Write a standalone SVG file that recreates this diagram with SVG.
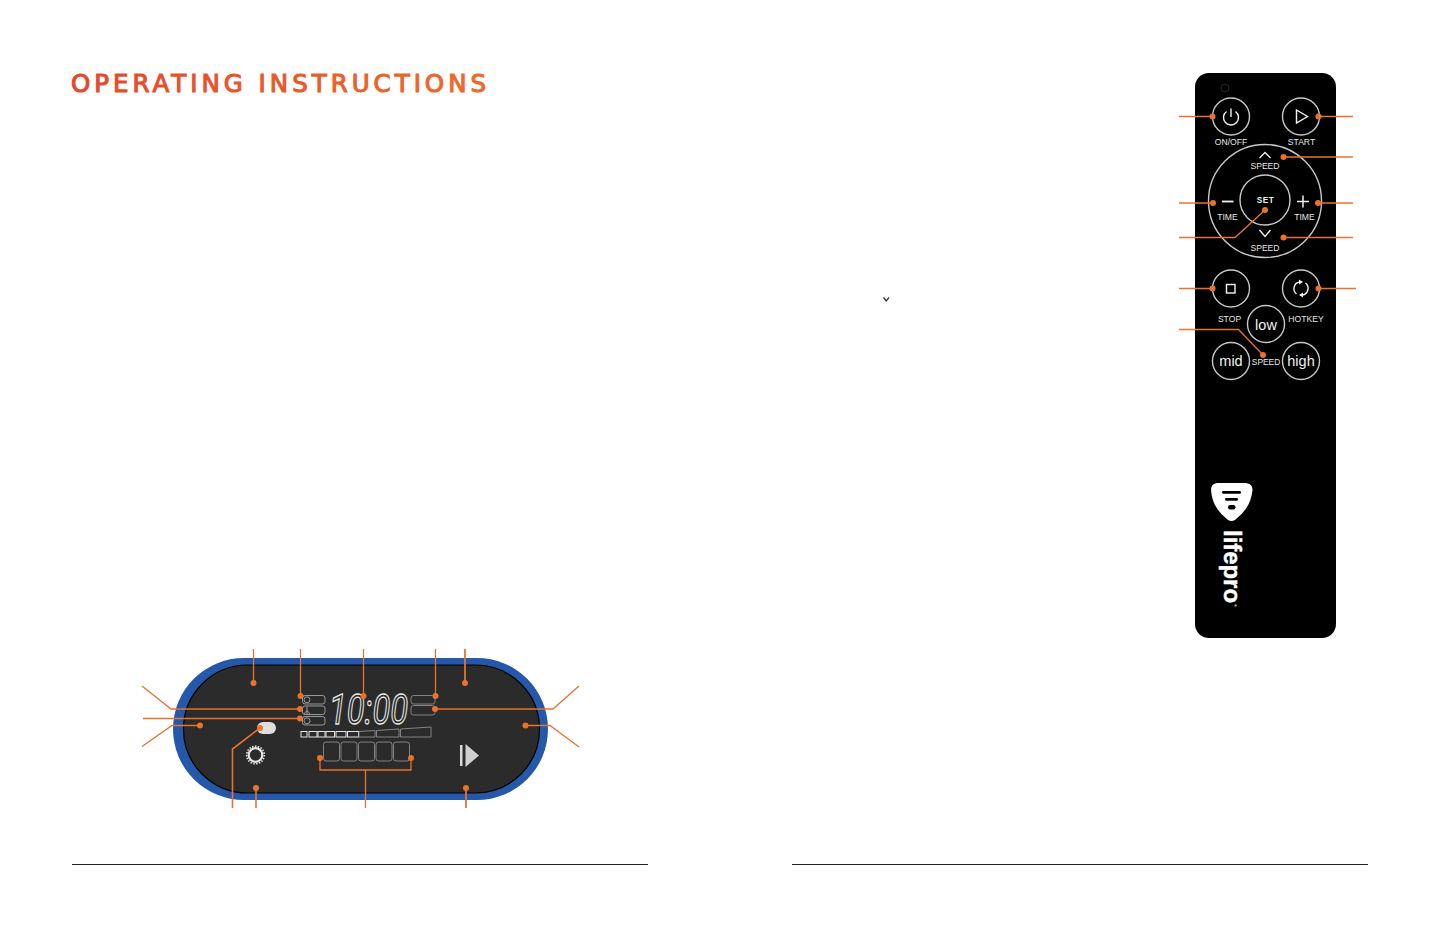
<svg xmlns="http://www.w3.org/2000/svg" width="1440" height="936" viewBox="0 0 1440 936">
<style>
text{font-family:"Liberation Sans",Arial,sans-serif}
.c{fill:none;stroke:#e9722c;stroke-width:1.300}
.d{fill:#e9722c}
.lcd{fill:none;stroke:#8d8d8d;stroke-width:.9}
.lit{fill:none;stroke:#e4e4e4;stroke-width:1}
.sm{fill:none;stroke:#b5b5b5;stroke-width:.8}
.btn{fill:none;stroke:#c8c8c8;stroke-width:1.400}
.ic{fill:none;stroke:#f2f2f2;stroke-width:1.400}
.lb{fill:#e6e6e6;font-size:8.600px;text-anchor:middle}
.big{fill:#f0f0f0;font-size:14.500px;text-anchor:middle}
.rule{stroke:#222;stroke-width:1}
</style>
<defs>
<linearGradient id="tg" gradientUnits="userSpaceOnUse" x1="71" x2="486" y1="0" y2="0"><stop offset="0" stop-color="#e4472c"/><stop offset="1" stop-color="#ee6a2c"/></linearGradient>
</defs>
<rect width="1440" height="936" fill="#fff"/>
<text id="title" x="71" y="91.500" font-size="24.500" fill="url(#tg)" stroke="url(#tg)" stroke-width="1.100" textLength="415" lengthAdjust="spacing" style="font-family:'DejaVu Sans',sans-serif">OPERATING INSTRUCTIONS</text>
<path id="chevron" d="M883.500 297.500L886.200 301L889 297.500" fill="none" stroke="#333" stroke-width="1.300"/>
<line class="rule" x1="72" y1="864.500" x2="648" y2="864.500"/>
<line class="rule" x1="792" y1="864.500" x2="1368" y2="864.500"/>

<g id="panel">
<rect x="173" y="658" width="375" height="142" rx="71" fill="#2558a8"/>
<rect x="183.500" y="665" width="356" height="128" rx="64" fill="#2b2b2b" stroke="#000" stroke-width="1.200"/>
<rect class="sm" x="302.500" y="695.500" width="22.500" height="8.500" rx="2.500"/>
<rect class="sm" x="302.500" y="706" width="22.500" height="8.500" rx="2.500"/>
<rect class="sm" x="302.500" y="716.500" width="22.500" height="8.500" rx="2.500"/>
<circle class="sm" cx="307" cy="699.800" r="3"/>
<path class="sm" d="M307 706.500V714M307 710.500L304 714M307 710.500L310 714"/>
<circle class="sm" cx="307" cy="720.800" r="3"/>
<rect class="lcd" x="411" y="695.500" width="24" height="8.500" rx="2.500"/>
<rect class="lcd" x="411" y="705.500" width="24" height="9.500" rx="2.500"/>
<text id="clock" x="329" y="723.500" font-size="43" font-style="italic" fill="#2b2b2b" stroke="#e8e8e8" stroke-width="1.300" textLength="79" lengthAdjust="spacingAndGlyphs" style="font-family:Roboto,sans-serif">10:00</text>
<g>
<rect class="lit" x="301" y="731.500" width="6" height="5.500"/>
<rect class="lit" x="309" y="731.500" width="8" height="5.500"/>
<rect class="lit" x="318" y="731.500" width="7" height="5.500"/>
<rect class="lit" x="326" y="731.500" width="8.500" height="5.500"/>
<rect class="lit" x="336" y="731.500" width="10" height="5.500"/>
<rect class="lit" x="347.500" y="731.500" width="11" height="5.500"/>
<path class="lcd" d="M359 731.500L375 730.500V737H359Z"/>
<path class="lcd" d="M376.500 730.500L399 729V737H376.500Z"/>
<path class="lcd" d="M400.500 729L431 727V737H400.500Z"/>
</g>
<g>
<rect class="lcd" x="323.500" y="742" width="16" height="19" rx="2.500"/>
<rect class="lcd" x="341" y="742" width="16" height="19" rx="2.500"/>
<rect class="lcd" x="358.500" y="742" width="16" height="19" rx="2.500"/>
<rect class="lcd" x="376" y="742" width="16" height="19" rx="2.500"/>
<rect class="lcd" x="393.500" y="742" width="16" height="19" rx="2.500"/>
</g>
<rect x="257" y="722" width="19" height="12" rx="6" fill="#dedede"/>
<circle cx="255.500" cy="755" r="6.800" fill="none" stroke="#e6e6e6" stroke-width="2.200"/>
<circle cx="255.500" cy="755" r="8.800" fill="none" stroke="#e6e6e6" stroke-width="1.600" stroke-dasharray="1.500 1.400"/>
<rect x="460" y="745" width="2.500" height="21" fill="#d8d8d8"/>
<path d="M465.500 744L479 755.500L465.500 767Z" fill="#d0d0d0"/>
</g>

<g id="remote">
<rect x="1195" y="73" width="141" height="565" rx="14" fill="#000"/>
<circle cx="1225" cy="88" r="4" fill="none" stroke="#2a2a2a" stroke-width="1"/>
<circle class="btn" cx="1231" cy="116.500" r="18.500"/>
<path class="ic" d="M1226.500 111.500A7.500 7.500 0 1 0 1235.500 111.500M1231 108.500V117"/>
<circle class="btn" cx="1301" cy="116.500" r="18.500"/>
<path class="ic" d="M1296.500 110L1307.500 116.500L1296.500 123Z"/>
<text class="lb" x="1231" y="145.300">ON/OFF</text>
<text class="lb" x="1301.500" y="145.300">START</text>
<circle class="btn" cx="1265" cy="201" r="56.500"/>
<circle class="btn" cx="1265" cy="200" r="25"/>
<path class="ic" d="M1259.500 158L1265 152.500L1270.500 158"/>
<text class="lb" x="1265" y="169.300">SPEED</text>
<path d="M1222 201.500H1233.500" stroke="#f2f2f2" stroke-width="1.800"/>
<text class="lb" x="1227.500" y="220.300">TIME</text>
<path d="M1297 201.500H1309M1303 195.500V207.500" stroke="#f2f2f2" stroke-width="1.500"/>
<text class="lb" x="1304.500" y="220.300">TIME</text>
<text x="1265.500" y="203" font-size="8.200" font-weight="700" fill="#f2f2f2" text-anchor="middle" letter-spacing=".6">SET</text>
<path class="ic" d="M1259.500 230L1265 236.500L1270.500 230"/>
<text class="lb" x="1265" y="250.500">SPEED</text>
<circle class="btn" cx="1231" cy="288.500" r="18.500"/>
<rect class="ic" x="1226.500" y="284.500" width="8.500" height="8.500" stroke-width="1.200"/>
<circle class="btn" cx="1301" cy="288.500" r="18.500"/>
<path class="ic" d="M1296.500 294A6.800 6.800 0 0 1 1299.500 282M1305.500 283A6.800 6.800 0 0 1 1302.500 295"/>
<path d="M1299 279.500L1303 282L1299 284.500ZM1303 292.500L1299 295L1303 297.500Z" fill="#f2f2f2"/>
<text class="lb" x="1229.500" y="321.500">STOP</text>
<text class="lb" x="1306" y="321.500">HOTKEY</text>
<circle class="btn" cx="1266" cy="324" r="18.500"/>
<text class="big" x="1266" y="329.500">low</text>
<circle class="btn" cx="1231" cy="361" r="18.500"/>
<text class="big" x="1231" y="365.500">mid</text>
<circle class="btn" cx="1301" cy="361" r="18.500"/>
<text class="big" x="1301" y="365.500">high</text>
<text class="lb" x="1266" y="365" style="font-size:8.400px">SPEED</text>
<path d="M1217 483H1246Q1252.500 483.500 1252.500 490Q1251 508 1235 520Q1231.500 522 1228 520Q1212 508 1211 490Q1211 483.500 1217 483Z" fill="#fff"/>
<rect x="1222" y="491" width="19" height="2.800" rx="1.400" fill="#000"/>
<rect x="1225" y="498" width="13" height="2.800" rx="1.400" fill="#000"/>
<rect x="1228" y="505" width="7.500" height="4.500" rx="2.200" fill="#000"/>
<text transform="translate(1224,530) rotate(90)" font-size="23.500" font-weight="700" fill="#fff" stroke="#fff" stroke-width=".5" textLength="73" lengthAdjust="spacingAndGlyphs">lifepro</text>
<text transform="translate(1234,604) rotate(90)" font-size="4" fill="#fff">®</text>
</g>

<g id="connectors">
<path class="c" d="M253.500 649V683"/>
<path class="c" d="M300.500 649V696"/>
<path class="c" d="M142 686L171 709H300"/>
<path class="c" d="M143 718.500H300"/>
<path class="c" d="M142 746.500L172 725.500H200"/>
<path class="c" d="M260 728L232.500 749V808" style="stroke-width:1.600"/>
<path class="c" d="M256 808V788" style="stroke-width:1.600"/>
<path class="c" d="M320 758V770H411V758M365.500 770V808"/>
<path class="c" d="M363.500 649V696"/>
<path class="c" d="M435.500 649V696"/>
<path class="c" d="M465 649V683" style="stroke-width:1.800"/>
<path class="c" d="M435 709H553L579 686"/>
<path class="c" d="M525.500 725.500H550L579 747"/>
<path class="c" d="M466 808V788" style="stroke-width:1.800"/>
<path class="c" d="M1179 116.500H1213"/>
<path class="c" d="M1353 116.500H1318"/>
<path class="c" d="M1353 157H1283.500"/>
<path class="c" d="M1179 203H1213"/>
<path class="c" d="M1353 203H1318"/>
<path class="c" d="M1179 237.500H1235L1265 210"/>
<path class="c" d="M1353 237.500H1283.500"/>
<path class="c" d="M1179 288.500H1213"/>
<path class="c" d="M1356 288.500H1318"/>
<path class="c" d="M1179 329.500H1238.500L1263 355"/>
<g class="d">
<circle cx="253.500" cy="683" r="3"/><circle cx="300.500" cy="696" r="3"/><circle cx="300" cy="709" r="3"/><circle cx="300" cy="718.500" r="3"/><circle cx="200" cy="725.500" r="3"/><circle cx="260" cy="728" r="3"/><circle cx="256" cy="788" r="3"/><circle cx="320" cy="758" r="3"/><circle cx="411" cy="758" r="3"/><circle cx="363.500" cy="696" r="3"/><circle cx="435.500" cy="696" r="3"/><circle cx="465" cy="683" r="3"/><circle cx="435" cy="709" r="3"/><circle cx="525.500" cy="725.500" r="3"/><circle cx="466" cy="788" r="3"/>
<circle cx="1212.500" cy="116.500" r="3"/><circle cx="1318.500" cy="116.500" r="3"/><circle cx="1283.500" cy="157" r="3"/><circle cx="1213" cy="203" r="3"/><circle cx="1318" cy="203" r="3"/><circle cx="1265" cy="210" r="3"/><circle cx="1283.500" cy="237.500" r="3"/><circle cx="1212.500" cy="288.500" r="3"/><circle cx="1318.500" cy="288.500" r="3"/><circle cx="1263" cy="355" r="3"/>
</g>
</g>
</svg>
